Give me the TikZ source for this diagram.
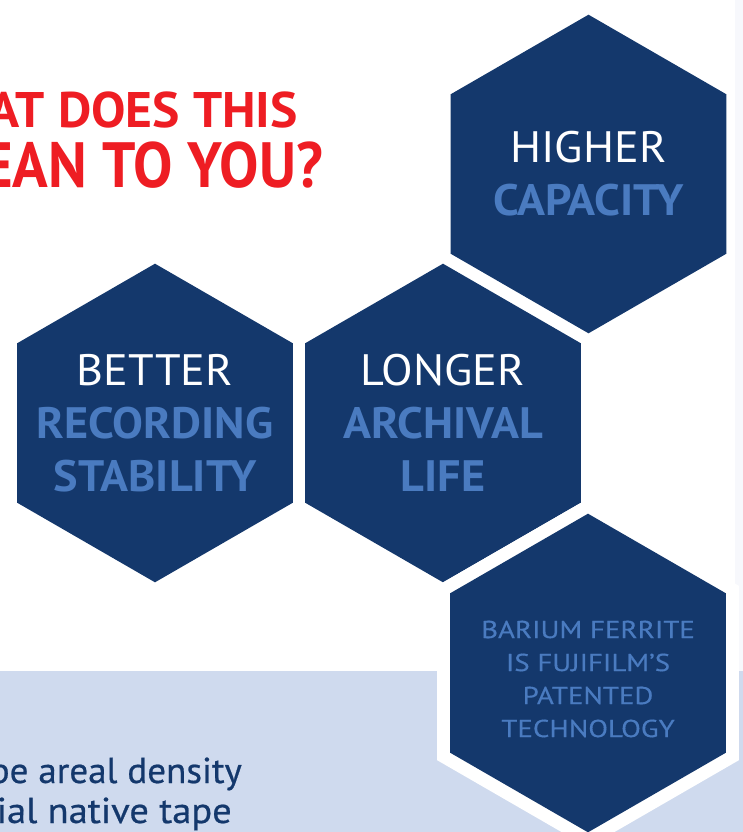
\documentclass[tikz,border=0pt]{standalone}
\usepackage{fontspec}
\setmainfont{PT Sans}
\newfontfamily\hexfont[FakeStretch=1.05]{PT Sans}
\newfontfamily\smallhexfont[FakeStretch=1.18, FakeBold=0.4]{PT Sans}
\newfontfamily\bodyfont[FakeStretch=1.03, FakeBold=0.6]{PT Sans}
\newfontfamily\bodywide[FakeStretch=1.07, FakeBold=0.6]{PT Sans}
\newfontfamily\titlewide[FakeStretch=1.03]{PT Sans}
\newfontfamily\titlenarrow[FakeStretch=0.92]{PT Sans}
\usetikzlibrary{shapes.geometric}
\definecolor{hexnavy}{HTML}{14386C}
\definecolor{hexlight}{HTML}{4A7BC0}
\definecolor{titlered}{HTML}{EE1D23}
\definecolor{bandblue}{HTML}{CFDAEE}
\definecolor{edgegray}{HTML}{F7F8FC}
\begin{document}
\begin{tikzpicture}[x=1pt,y=-1pt,hex node/.style={regular polygon, regular polygon sides=6, shape border rotate=30, fill=hexnavy, inner sep=0pt, outer sep=0pt, minimum size=318.6pt},rim node/.style={hex node, fill=white, minimum size=348.6pt},label node/.style={align=center, inner sep=0pt, text=white, font=\hexfont\fontsize{44}{53}\selectfont},small label node/.style={align=center, inner sep=0pt, text=hexlight, font=\smallhexfont\fontsize{24.5}{33}\selectfont},title node/.style={text=titlered, anchor=base east, inner sep=0pt},body node/.style={text=hexnavy, anchor=base east, inner sep=0pt, font=\bodyfont\fontsize{36}{40}\selectfont}]%
\clip (0,0) rectangle (743,832);%
  % Background%
\fill[edgegray] (735,0) rectangle (743,671);%
\fill[bandblue] (0,671) rectangle (743,832);%
  % Title%
\node[title node, font=\titlewide\fontsize{50}{60}\selectfont\bfseries] (title1) at (298,128) {AT DOES THIS};%
\node[title node, font=\titlenarrow\fontsize{64}{72}\selectfont\bfseries] (title2) at (323,187) {EAN TO YOU?};%
  % Body text%
\node[body node] (body1) at (242,783) {pe areal density};%
\node[body node, font=\bodywide\fontsize{36}{40}\selectfont] (body2) at (232,823) {ial native tape};%
  % Hexagons%
\node[hex node] (hexHigh) at (588.5,174) {};%
\node[hex node] (hexBetter) at (155,423) {};%
\node[hex node] (hexLonger) at (443,423) {};%
\node[rim node] (hexBariumRim) at (588,673) {};%
\node[hex node] (hexBarium) at (588,673) {};%
  % Labels%
\node[label node] (lblHigh) at (hexHigh.center) {HIGHER\\{\bfseries\color{hexlight}CAPACITY}};%
\node[label node] (lblBetter) at (hexBetter.center) {BETTER\\{\bfseries\color{hexlight}RECORDING}\\{\bfseries\color{hexlight}STABILITY}};%
\node[label node] (lblLonger) at (hexLonger.center) {LONGER\\{\bfseries\color{hexlight}ARCHIVAL}\\{\bfseries\color{hexlight}LIFE}};%
\node[small label node] (lblBarium) at ([yshift=-6pt]hexBarium.center) {BARIUM FERRITE\\IS FUJIFILM’S\\PATENTED\\TECHNOLOGY};%
\path[use as bounding box] (0,0) rectangle (743,832);%
\end{tikzpicture}
\end{document}
